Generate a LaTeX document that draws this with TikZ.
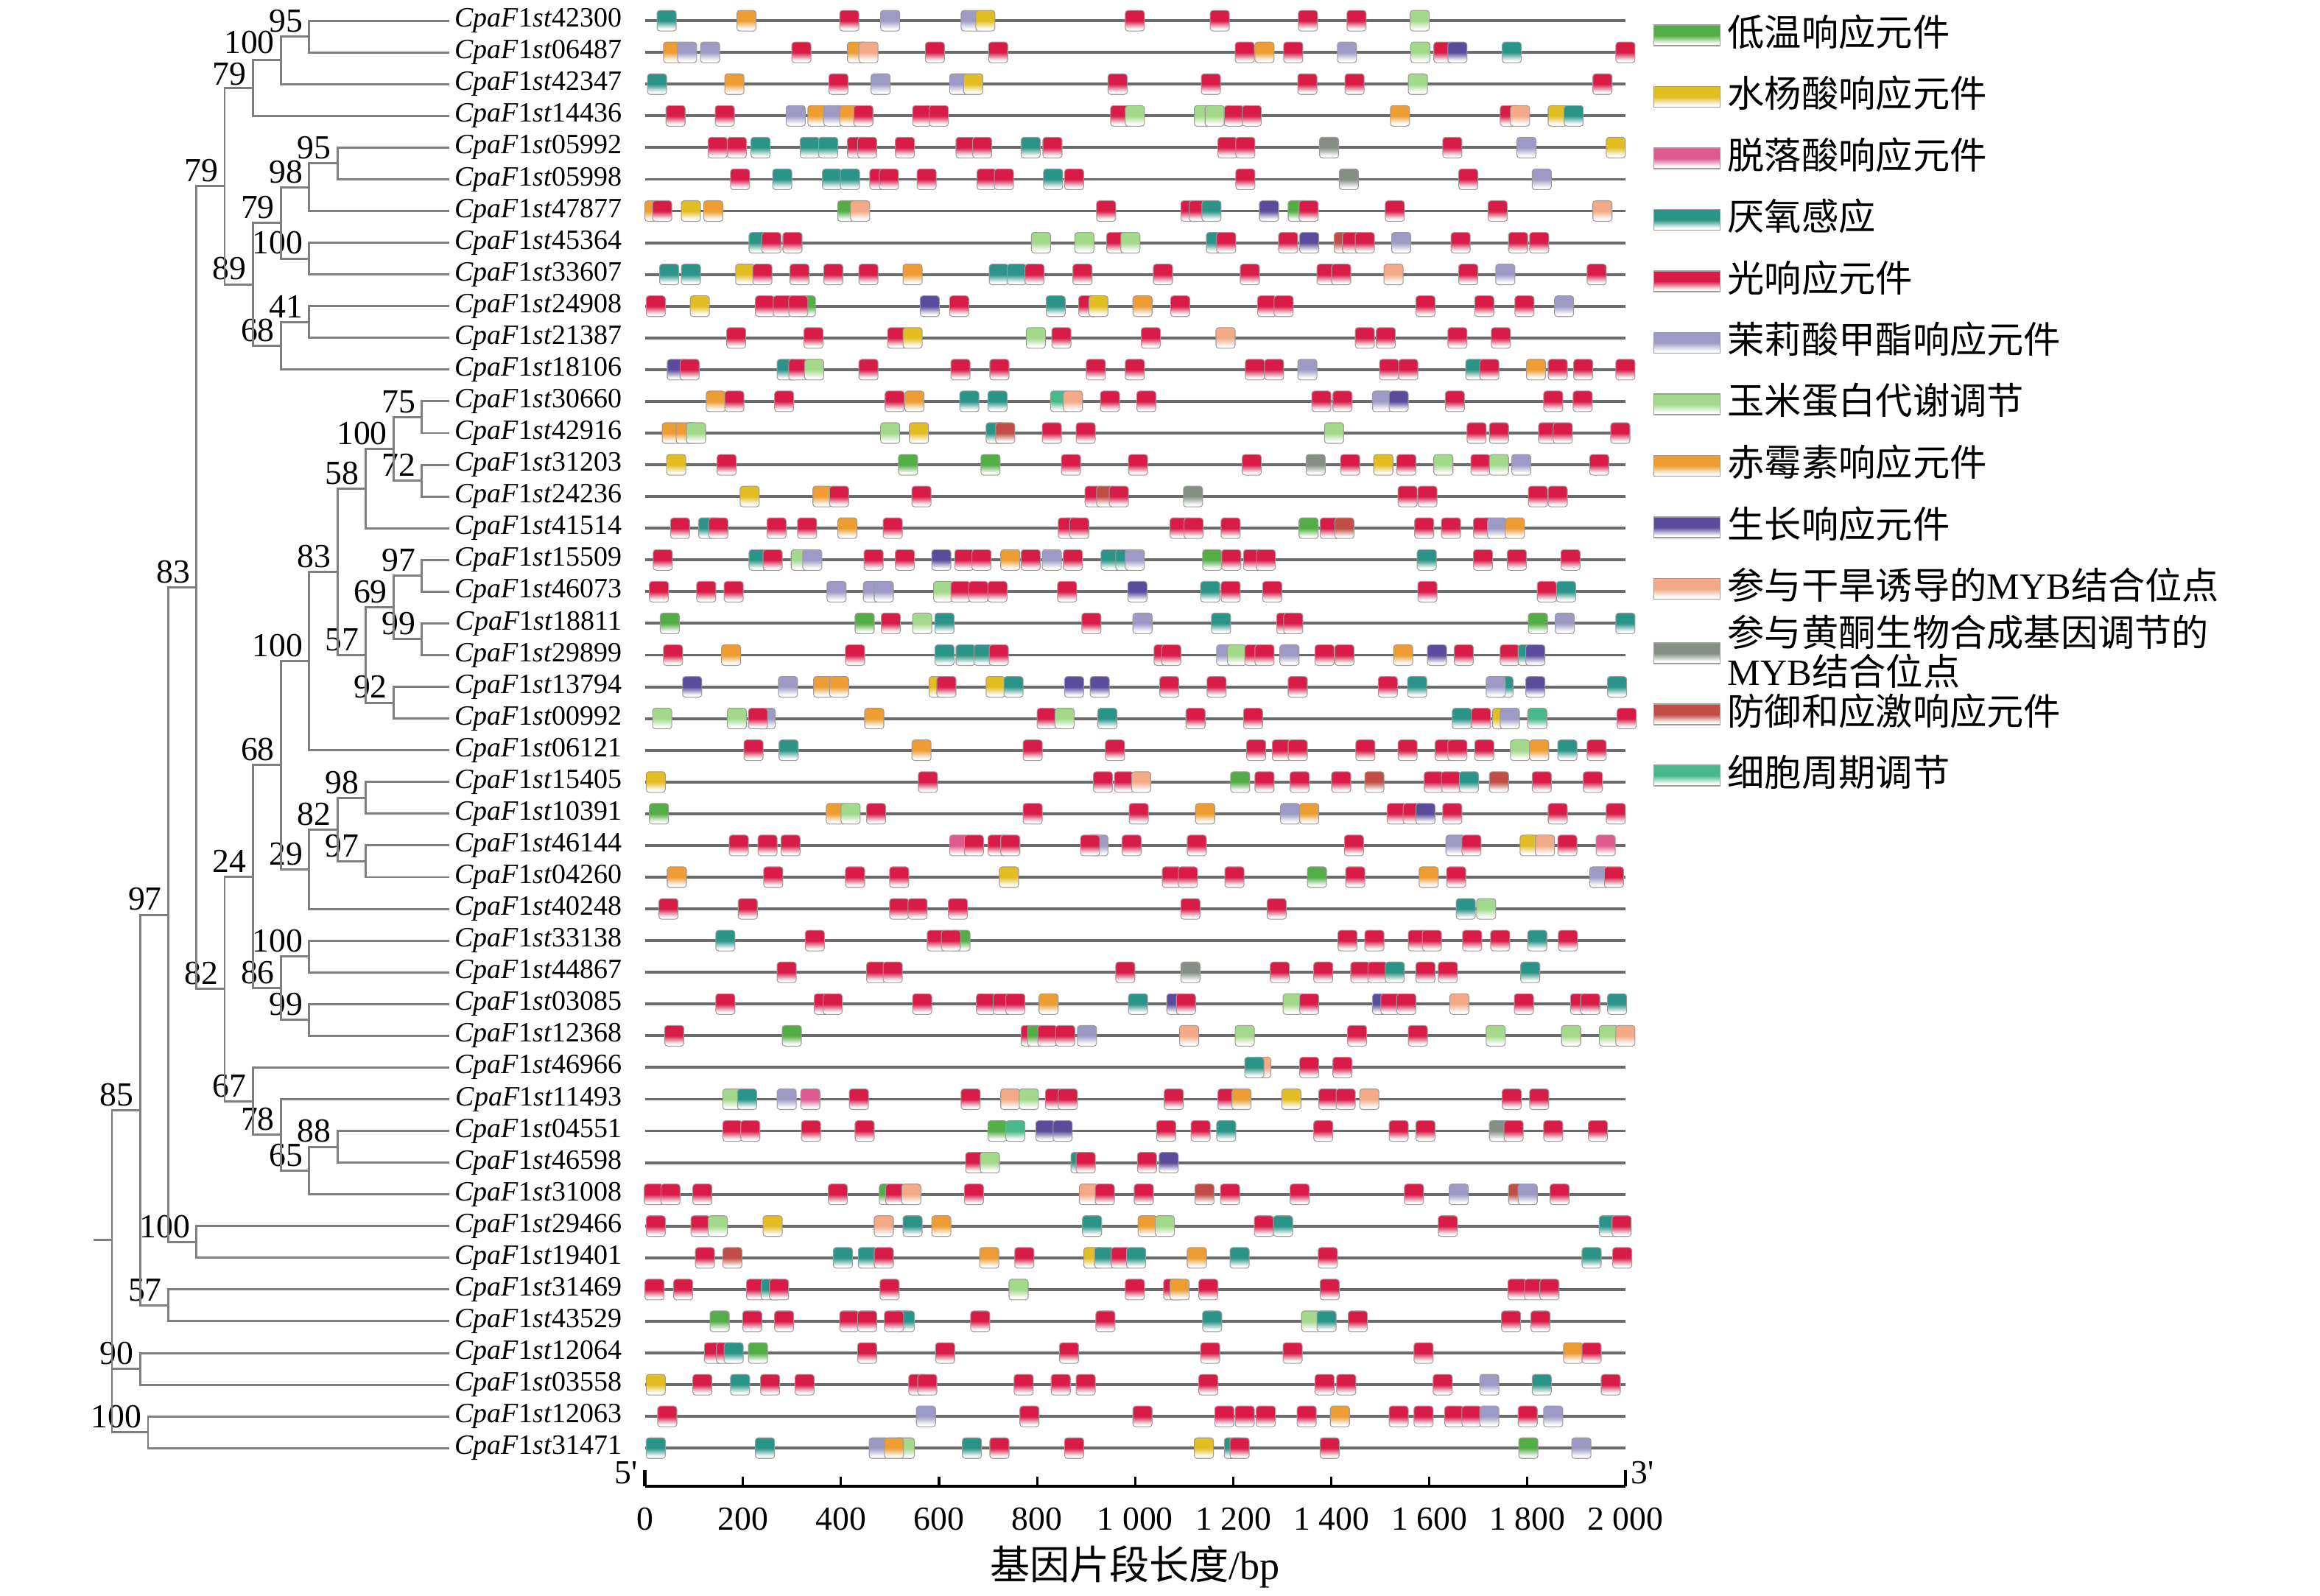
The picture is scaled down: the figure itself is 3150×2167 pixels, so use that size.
\documentclass[tikz,border=0pt]{standalone}
\usepackage{fontspec}
\setmainfont{Liberation Serif}
\newfontfamily\cjk{Noto Sans CJK SC}
\usetikzlibrary{calc}
\definecolor{cG}{HTML}{52AE45}
\definecolor{cY}{HTML}{E3BE22}
\definecolor{cK}{HTML}{DE5A8E}
\definecolor{cT}{HTML}{2A9488}
\definecolor{cR}{HTML}{D81B47}
\definecolor{cL}{HTML}{9D9BC6}
\definecolor{cZ}{HTML}{A3D98A}
\definecolor{cO}{HTML}{EE9D33}
\definecolor{cP}{HTML}{5A4B9D}
\definecolor{cS}{HTML}{F4A987}
\definecolor{cF}{HTML}{858F85}
\definecolor{cD}{HTML}{C14E45}
\definecolor{cC}{HTML}{47B98A}
\definecolor{treegray}{HTML}{7F7F7F}
\definecolor{linegray}{HTML}{6B6B6B}
\definecolor{boxedge}{HTML}{A09A98}
\colorlet{motc}{red}
\pgfdeclareverticalshading[motc]{motshade}{100bp}{color(0bp)=(white); color(30bp)=(white); color(50bp)=(motc); color(100bp)=(motc)}
\tikzset{
  treeline/.style={draw=treegray, line width=0.85pt},
  gline/.style={draw=linegray, line width=1.1pt},
  mot/.style={/utils/exec={\colorlet{motc}{c#1}}, shading=motshade, draw=boxedge, line width=0.3pt, rounded corners=1.1pt},
  bs/.style={anchor=south east, inner sep=0pt, font=\fontsize{13}{13}\selectfont},
  gene/.style={anchor=east, inner sep=0pt, font=\fontsize{10.8}{11}\selectfont},
  legtxt/.style={anchor=west, inner sep=0pt, align=left, font=\fontsize{14.3}{15.2}\selectfont\cjk},
  ticklab/.style={inner sep=0pt, font=\fontsize{13}{13}\selectfont},
  axisline/.style={draw=black, line width=1.3pt},
}
\newcommand\gname[1]{\textit{CpaF}1\textit{st}#1}
\newcommand\generow[2]{%
  \pgfmathsetmacro\yy{28.1+43.07*(#1-1)}%
  \coordinate (gs#1) at (875.6,\yy);
  \coordinate (ge#1) at (2207,\yy);
  \draw[gline] (gs#1) -- (ge#1);
  \foreach \p/\c in {#2}{%
    \pgfmathsetmacro\xx{860+\p/1.153}%
    \shadedraw[mot=\c] ({\xx-13},{\yy-14}) rectangle ({\xx+13},{\yy+14});
  }%
}
\newcommand\inode[5][(-8,-5)]{\coordinate (#2) at (#3,#4); \node[bs] (l#2) at ($(#2)+#1$) {#5};}
\newcommand\link[3]{\draw[treeline] (#2) -| (#1) |- (#3);}
\begin{document}
\begin{tikzpicture}[x=0.1mm,y=-0.1mm]
\useasboundingbox (0,0) rectangle (3150,2167);
% tips
\foreach \i in {1,...,46}{\coordinate (t\i) at (609.6,{28.1+43.07*(\i-1)});}
% internal nodes
\inode{nA}{419.75}{49.65}{95}
\inode[(-8,-8)]{nB}{381.5}{81.9}{100}
\inode[(-8,-3)]{nC}{343.25}{119.6}{79}
\inode{nJ}{458}{221.95}{95}
\inode{nH}{419.75}{254.2}{98}
\inode{nI}{419.75}{351.15}{100}
\inode{nF}{381.5}{302.7}{79}
\inode{nK}{419.75}{437.25}{41}
\inode{nG}{381.5}{469.6}{68}
\inode{nE}{343.25}{386.15}{89}
\inode{nD}{305}{252.9}{79}
\inode{nDD}{572.75}{566.45}{75}
\inode{nEE}{572.75}{652.65}{72}
\inode{nCC}{534.5}{609.55}{100}
\inode{nAA}{496.25}{663.4}{58}
\inode{nHH}{572.75}{781.85}{97}
\inode{nII}{572.75}{867.95}{99}
\inode{nFF}{534.5}{824.9}{69}
\inode{nGG}{534.5}{954.1}{92}
\inode{nBB}{496.25}{889.5}{57}
\inode{nZ}{458}{776.45}{83}
\inode{nX}{419.75}{897.6}{100}
\inode{nKK}{496.25}{1083.35}{98}
\inode{nLL}{496.25}{1169.45}{97}
\inode{nJJ}{458}{1126.4}{82}
\inode{nY}{419.75}{1180.25}{29}
\inode{nT}{381.5}{1038.9}{68}
\inode{nV}{419.75}{1298.65}{100}
\inode{nW}{419.75}{1384.8}{99}
\inode{nU}{381.5}{1341.7}{86}
\inode{nR}{343.25}{1190.3}{24}
\inode{nOO}{458}{1557.1}{88}
\inode{nNN}{419.75}{1589.4}{65}
\inode{nMM}{381.5}{1540.95}{78}
\inode{nS}{343.25}{1495.2}{67}
\inode{nQ}{305}{1342.75}{82}
\inode{nP}{266.75}{797.8}{83}
\inode{nSS}{266.75}{1686.3}{100}
\inode{nRR}{228.5}{1242.05}{97}
\inode{nVV}{228.5}{1772.45}{57}
\inode{nUU}{190.25}{1507.25}{85}
\inode{nXX}{190.25}{1858.55}{90}
\inode{nWW}{201}{1944.75}{100}
\coordinate (root) at (152,1683);
\coordinate (r0) at (127.4,1683);
% tree connectors
\link{nA}{t1}{t2}
\link{nB}{nA}{t3}
\link{nC}{nB}{t4}
\link{nJ}{t5}{t6}
\link{nH}{nJ}{t7}
\link{nI}{t8}{t9}
\link{nF}{nH}{nI}
\link{nK}{t10}{t11}
\link{nG}{nK}{t12}
\link{nE}{nF}{nG}
\link{nD}{nC}{nE}
\link{nDD}{t13}{t14}
\link{nEE}{t15}{t16}
\link{nCC}{nDD}{nEE}
\link{nAA}{nCC}{t17}
\link{nHH}{t18}{t19}
\link{nII}{t20}{t21}
\link{nFF}{nHH}{nII}
\link{nGG}{t22}{t23}
\link{nBB}{nFF}{nGG}
\link{nZ}{nAA}{nBB}
\link{nX}{nZ}{t24}
\link{nKK}{t25}{t26}
\link{nLL}{t27}{t28}
\link{nJJ}{nKK}{nLL}
\link{nY}{nJJ}{t29}
\link{nT}{nX}{nY}
\link{nV}{t30}{t31}
\link{nW}{t32}{t33}
\link{nU}{nV}{nW}
\link{nR}{nT}{nU}
\link{nOO}{t36}{t37}
\link{nNN}{nOO}{t38}
\link{nMM}{t35}{nNN}
\link{nS}{t34}{nMM}
\link{nQ}{nR}{nS}
\link{nP}{nD}{nQ}
\link{nSS}{t39}{t40}
\link{nRR}{nP}{nSS}
\link{nVV}{t41}{t42}
\link{nUU}{nRR}{nVV}
\link{nXX}{t43}{t44}
\link{nWW}{t45}{t46}
\link{root}{nUU}{nWW}
\draw[treeline] (root) |- (nXX);
\draw[treeline] (r0) -- (root);
% gene labels
\foreach \g [count=\i] in {42300,06487,42347,14436,05992,05998,47877,45364,33607,24908,21387,18106,30660,42916,31203,24236,41514,15509,46073,18811,29899,13794,00992,06121,15405,10391,46144,04260,40248,33138,44867,03085,12368,46966,11493,04551,46598,31008,29466,19401,31469,43529,12064,03558,12063,31471}{%
  \node[gene] (lab\i) at (845,{28.1+43.07*(\i-1)}) {\gname{\g}};
}
% motif rows
\generow{1}{52/T,177/O,338/R,402/L,528/L,551/Y,785/R,918/R,1056/R,1132/R,1231/Z}
\generow{2}{62/O,84/L,120/L,263/R,350/O,368/S,472/R,571/R,957/R,988/O,1033/R,1117/L,1232/Z,1268/R,1290/P,1375/T,1553/R}
\generow{3}{37/T,158/O,321/R,387/L,510/L,532/Y,758/R,904/R,1055/R,1129/R,1228/Z,1517/R}
\generow{4}{66/R,143/R,254/L,288/O,313/L,338/O,360/R,452/R,478/R,762/R,785/Z,893/Z,910/Z,940/R,968/R,1200/O,1372/R,1388/S,1447/Y,1472/T}
\generow{5}{132/R,162/R,199/T,276/T,305/T,350/R,366/R,425/R,520/R,546/R,622/T,656/R,930/R,958/R,1089/F,1282/R,1398/L,1538/Y}
\generow{6}{167/R,233/T,311/T,339/T,385/R,400/R,459/R,553/R,580/R,657/T,690/R,958/R,1120/F,1307/R,1422/L}
\generow{7}{33/O,45/R,90/Y,125/O,335/G,355/S,740/R,872/R,885/R,905/T,995/P,1040/G,1057/R,1192/R,1353/R,1517/S}
\generow{8}{196/T,216/R,249/R,638/Z,706/Z,756/R,778/Z,912/T,928/R,1025/R,1058/P,1112/D,1125/R,1145/R,1202/L,1295/R,1385/R,1418/R}
\generow{9}{56/T,90/T,175/Y,202/R,260/R,313/R,368/R,437/O,572/T,600/T,628/R,703/R,829/R,965/R,1085/R,1108/R,1190/S,1307/R,1365/L,1508/R}
\generow{10}{35/R,104/Y,206/R,234/R,270/G,258/R,464/P,510/R,661/T,712/R,728/Y,797/O,856/R,992/R,1018/R,1240/R,1332/R,1395/R,1457/L}
\generow{11}{161/R,282/R,413/R,437/Y,630/Z,670/R,810/R,927/S,1145/R,1178/R,1290/R,1358/R}
\generow{12}{68/P,88/R,240/T,258/R,283/Z,368/R,512/R,573/R,724/R,785/R,973/R,1003/R,1055/L,1183/R,1213/R,1318/T,1340/R,1413/O,1447/R,1487/R,1553/R}
\generow{13}{129/O,158/R,236/R,409/R,440/O,526/T,570/T,668/C,688/S,746/R,803/R,1077/R,1110/R,1172/L,1198/P,1286/R,1440/R,1486/R}
\generow{14}{60/O,82/O,98/Z,402/Z,447/Y,567/T,582/D,655/R,708/R,1097/Z,1320/R,1355/R,1432/R,1455/R,1545/R}
\generow{15}{67/Y,146/R,430/G,559/G,685/R,790/R,968/R,1068/F,1122/R,1174/Y,1210/R,1268/Z,1326/R,1355/Z,1390/L,1512/R}
\generow{16}{182/Y,296/O,322/R,451/R,722/R,740/D,760/R,876/F,1212/R,1243/R,1416/R,1447/R}
\generow{17}{73/R,117/T,133/R,224/R,272/R,335/O,406/R,680/R,698/R,855/R,877/R,935/R,1057/G,1090/R,1113/D,1238/R,1280/R,1330/R,1352/L,1380/O}
\generow{18}{46/R,196/T,218/R,262/Z,280/L,376/R,425/R,482/P,518/R,545/R,590/O,622/R,655/L,688/R,747/T,770/T,785/L,906/G,936/R,970/R,990/R,1242/T,1330/R,1383/R,1467/R}
\generow{19}{40/R,114/R,157/R,318/L,375/L,392/L,485/Z,512/R,540/R,570/R,679/R,789/P,903/T,935/R,1000/R,1243/R,1430/R,1460/T}
\generow{20}{57/G,362/G,403/R,452/Z,487/T,717/R,797/L,920/T,1022/R,1033/R,1416/G,1458/L,1553/T}
\generow{21}{62/R,153/O,347/R,487/T,520/T,548/T,572/R,830/R,842/R,928/L,945/Z,972/R,988/R,1027/L,1082/R,1113/R,1205/O,1258/P,1300/R,1372/R,1400/T,1412/P}
\generow{22}{92/P,242/L,297/O,322/O,478/Y,490/R,567/Y,595/T,690/P,730/P,839/R,913/R,1040/R,1181/R,1227/T,1362/T,1350/L,1412/P,1540/T}
\generow{23}{45/Z,162/Z,207/L,195/R,377/O,647/R,675/Z,742/T,880/R,970/R,1297/T,1327/R,1360/Y,1372/L,1415/C,1555/R}
\generow{24}{188/R,243/T,451/O,625/R,754/R,975/R,1015/R,1040/R,1146/R,1212/R,1270/R,1290/R,1332/R,1388/Z,1418/O,1462/T,1508/R}
\generow{25}{35/Y,461/R,735/R,768/R,795/S,950/G,988/R,1043/R,1108/R,1160/D,1253/R,1280/R,1308/T,1355/D,1422/R,1502/R}
\generow{26}{40/G,317/O,340/Z,380/R,625/R,791/R,895/O,1028/L,1058/O,1195/R,1220/R,1240/P,1282/R,1447/R,1538/R}
\generow{27}{165/R,210/R,246/R,510/K,533/R,570/R,590/R,728/L,715/R,780/R,882/R,1128/R,1287/L,1312/R,1403/Y,1427/S,1462/R,1522/K}
\generow{28}{68/O,219/R,347/R,416/R,588/Y,843/R,868/R,941/R,1070/G,1130/R,1245/O,1288/R,1512/L,1535/R}
\generow{29}{55/R,179/R,416/R,445/R,508/R,872/R,1007/R,1303/T,1335/Z}
\generow{30}{144/T,284/R,475/R,512/G,497/R,1118/R,1160/R,1228/R,1250/R,1313/R,1357/R,1415/T,1463/R}
\generow{31}{240/R,380/R,406/R,770/R,872/F,1012/R,1080/R,1138/R,1165/R,1192/T,1240/R,1275/R,1404/T}
\generow{32}{144/R,298/R,312/R,452/R,552/R,578/R,598/R,650/O,790/T,850/P,865/R,1032/Z,1058/R,1172/P,1185/R,1210/R,1293/S,1394/R,1482/R,1498/R,1540/T}
\generow{33}{64/R,248/G,622/R,632/G,648/R,676/R,710/L,870/S,957/Z,1133/R,1228/R,1350/Z,1468/Z,1527/Z,1553/S}
\generow{34}{983/S,972/T,1058/R,1110/R}
\generow{35}{155/Z,178/T,240/L,277/K,353/R,528/R,590/S,619/Z,660/R,680/R,846/R,930/R,952/O,1030/Y,1088/R,1115/R,1152/S,1375/R,1418/R}
\generow{36}{155/R,183/R,278/R,362/R,570/G,598/C,645/P,672/P,834/R,888/R,928/T,1080/R,1198/R,1240/R,1355/F,1378/R,1440/R,1510/R}
\generow{37}{535/R,558/Z,700/T,708/R,804/R,838/P}
\generow{38}{32/R,58/R,108/R,320/R,400/G,410/R,435/S,533/R,713/S,738/R,799/R,894/D,934/R,1043/R,1222/R,1292/L,1385/D,1400/L,1450/R}
\generow{39}{35/R,105/R,132/Z,218/Y,392/S,437/T,482/O,718/T,805/O,832/Z,987/R,1017/T,1275/R,1527/T,1547/R}
\generow{40}{112/R,155/D,328/T,367/T,392/R,557/O,612/R,720/Y,737/T,763/R,787/T,882/O,949/T,1087/R,1500/T,1548/R}
\generow{41}{33/R,78/R,192/R,215/T,228/R,401/R,603/Z,785/R,845/R,855/O,900/R,1090/R,1384/R,1410/R,1434/R}
\generow{42}{135/G,186/R,236/R,338/R,366/R,425/T,408/R,543/R,739/R,906/T,1061/Z,1085/T,1134/R,1374/R,1420/R}
\generow{43}{126/R,145/R,157/T,195/G,366/R,488/R,682/R,903/R,1032/R,1237/R,1471/O,1500/R}
\generow{44}{35/Y,108/R,167/T,214/R,268/R,446/R,460/R,611/R,669/R,708/R,900/R,1082/R,1116/R,1267/R,1340/L,1422/T,1530/R}
\generow{45}{53/R,458/L,620/R,797/R,925/R,957/R,990/R,1054/R,1106/O,1198/R,1237/R,1285/R,1312/R,1340/L,1400/R,1440/L}
\generow{46}{35/T,206/T,425/Z,384/L,408/O,530/T,573/R,690/R,893/Y,940/T,949/R,1090/R,1401/G,1484/L}
% axis
\coordinate (ax0) at (875.6,2018);
\coordinate (ax1) at (2207,2018);
\draw[axisline] (ax0) -- (ax1);
\draw[axisline] (ax0) -- ++(0,-22);
\draw[axisline] (ax1) -- ++(0,-22);
\foreach \k in {1,...,9}{\draw[line width=0.9pt] ($(ax0)+(133.14*\k,0)$) -- ++(0,-13);}
\foreach \l [count=\k from 0] in {0,200,400,600,800,1~000,1~200,1~400,1~600,1~800,2~000}{%
  \node[ticklab] (tl\k) at ($(ax0)+(133.14*\k,45)$) {\l};
}
\node[anchor=east, inner sep=0pt, font=\fontsize{13}{13}\selectfont] (p5) at (866,2000) {5\textquotesingle};
\node[anchor=west, inner sep=0pt, font=\fontsize{13}{13}\selectfont] (p3) at (2214,2000) {3\textquotesingle};
\node[inner sep=0pt, font=\fontsize{15.4}{16}\selectfont] (xtitle) at (1541,2127) {{\cjk 基因片段长度}/bp};
% legend
\foreach \c/\yt/\t [count=\i] in {G/43/低温响应元件, Y/126.5/水杨酸响应元件, K/210/脱落酸响应元件, T/293.5/厌氧感应, R/377/光响应元件, L/460.5/茉莉酸甲酯响应元件, Z/544/玉米蛋白代谢调节, O/627.5/赤霉素响应元件, P/711/生长响应元件}{%
  \shadedraw[mot=\c, sharp corners] (2245,{\yt-9}) rectangle (2335,{\yt+19});
  \node[legtxt] (leg\i) at (2345,\yt) {\t};
}
\shadedraw[mot=S, sharp corners] (2245,785.5) rectangle (2335,813.5);
\node[legtxt] (leg10) at (2345,794.5) {参与干旱诱导的{\rmfamily MYB}结合位点};
\shadedraw[mot=F, sharp corners] (2245,873) rectangle (2335,901);
\node[legtxt] (leg11) at (2345,884.5) {参与黄酮生物合成基因调节的\\{\rmfamily MYB}结合位点};
\shadedraw[mot=D, sharp corners] (2245,956) rectangle (2335,984);
\node[legtxt] (leg12) at (2345,965) {防御和应激响应元件};
\shadedraw[mot=C, sharp corners] (2245,1039) rectangle (2335,1067);
\node[legtxt] (leg13) at (2345,1048) {细胞周期调节};
\end{tikzpicture}
\end{document}
